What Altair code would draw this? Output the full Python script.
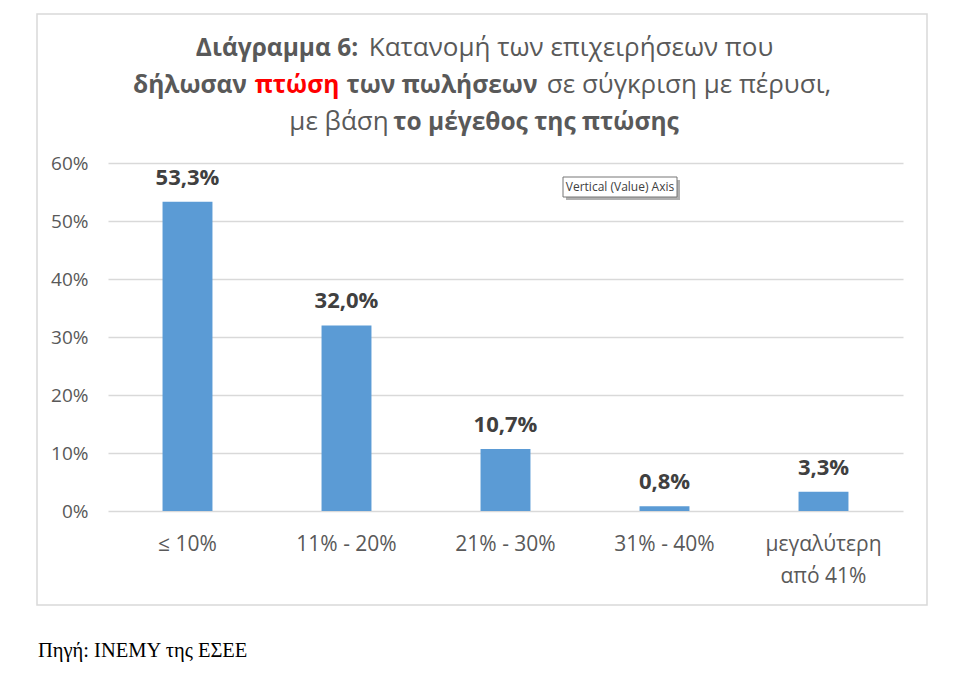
import altair as alt
import pandas as pd

# Chart values
categories = ["≤ 10%", "11% - 20%", "21% - 30%", "31% - 40%", "μεγαλύτερη από 41%"]
shares = [53.3, 32.0, 10.7, 0.8, 3.3]
y_ticks = [0, 10, 20, 30, 40, 50, 60]

# Title pieces: text, weight, colour (one list per line)
title_text = [
    ["Διάγραμμα 6:", "Κατανομή των επιχειρήσεων που"],
    ["δήλωσαν", "πτώση", "των πωλήσεων", "σε σύγκριση με πέρυσι,"],
    ["με βάση", "το μέγεθος της πτώσης"],
]
title_weight = [
    ["bold", "normal"],
    ["bold", "bold", "bold", "normal"],
    ["normal", "bold"],
]
title_color = [
    ["#595959", "#595959"],
    ["#595959", "#FF0000", "#595959", "#595959"],
    ["#595959", "#595959"],
]
source_text = "Πηγή: ΙΝΕΜΥ της ΕΣΕΕ"
popup_text = "Vertical (Value) Axis"

# layout: centre of each title piece, relative to the plot area origin
title_x = [[169, 463], [82, 189, 334, 581], [231, 428]]
title_y = [-107, -70, -33]

df = pd.DataFrame({
    "cat": categories,
    "share": shares,
    "label": [f"{v:.1f}".replace(".", ",") + "%" for v in shares],
})

GREY = "#595959"
one = pd.DataFrame({"k": [0]})

x_enc = alt.X(
    "cat:N",
    sort=categories,
    scale=alt.Scale(paddingInner=0.686, paddingOuter=0.343),
    axis=alt.Axis(
        title=None, labelAngle=0, domain=False, ticks=False,
        labelFontSize=21, labelColor=GREY, labelPadding=22,
        labelLineHeight=32,
        labelExpr="datum.label == 'μεγαλύτερη από 41%' ? ['μεγαλύτερη', 'από 41%'] : datum.label",
    ),
)
y_enc = alt.Y(
    "share:Q",
    scale=alt.Scale(domain=[0, 60]),
    axis=alt.Axis(
        title=None, values=y_ticks, labelExpr="datum.value + '%'",
        domain=False, ticks=False, gridColor="#d9d9d9", gridWidth=1.4,
        labelFontSize=19, labelColor=GREY, labelPadding=20,
    ),
)

bars = alt.Chart(df).mark_bar(color="#5B9BD5").encode(x=x_enc, y=y_enc)

labels = alt.Chart(df).mark_text(
    fontSize=22, fontWeight="bold", color="#404040", baseline="alphabetic", dy=-17
).encode(x=alt.X("cat:N", sort=categories), y="share:Q", text="label:N")

border = alt.Chart(one).mark_rect(fill=None, stroke="#d9d9d9", strokeWidth=1.5).encode(
    x=alt.value(-71), x2=alt.value(819), y=alt.value(-149), y2=alt.value(442)
)

# small Excel pop-up left in the picture
popup_shadow = alt.Chart(one).mark_rect(fill="#b0b0b0").encode(
    x=alt.value(458), x2=alt.value(572), y=alt.value(17), y2=alt.value(37)
)
popup_box = alt.Chart(one).mark_rect(fill="white", stroke="#767676", strokeWidth=1).encode(
    x=alt.value(455), x2=alt.value(569), y=alt.value(14), y2=alt.value(34)
)
popup_label = alt.Chart(one).mark_text(
    fontSize=12, color="#404040", baseline="middle", align="center"
).encode(x=alt.value(512), y=alt.value(24), text=alt.value(popup_text))

title_layers = []
for li, line in enumerate(title_text):
    for si, seg in enumerate(line):
        bold = title_weight[li][si] == "bold"
        title_layers.append(
            alt.Chart(one).mark_text(
                fontSize=24.5 if bold else 26, fontWeight=title_weight[li][si],
                color=title_color[li][si], align="center", baseline="alphabetic",
            ).encode(x=alt.value(title_x[li][si]), y=alt.value(title_y[li]), text=alt.value(seg))
        )

source = alt.Chart(one).mark_text(
    font="Liberation Serif", fontSize=20.5, color="#000000", align="left", baseline="alphabetic"
).encode(x=alt.value(-70), y=alt.value(494), text=alt.value(source_text))

chart = alt.layer(
    border, bars, labels, popup_shadow, popup_box, popup_label, source, *title_layers
).properties(
    width=795, height=348,
    autosize=alt.AutoSizeParams(type="none"),
    padding={"left": 100, "top": 155, "right": 45, "bottom": 160},
    background="white",
).configure(font="Open Sans").configure_view(stroke=None)

chart.save("out.html", embed_options={"renderer": "svg", "actions": False})
